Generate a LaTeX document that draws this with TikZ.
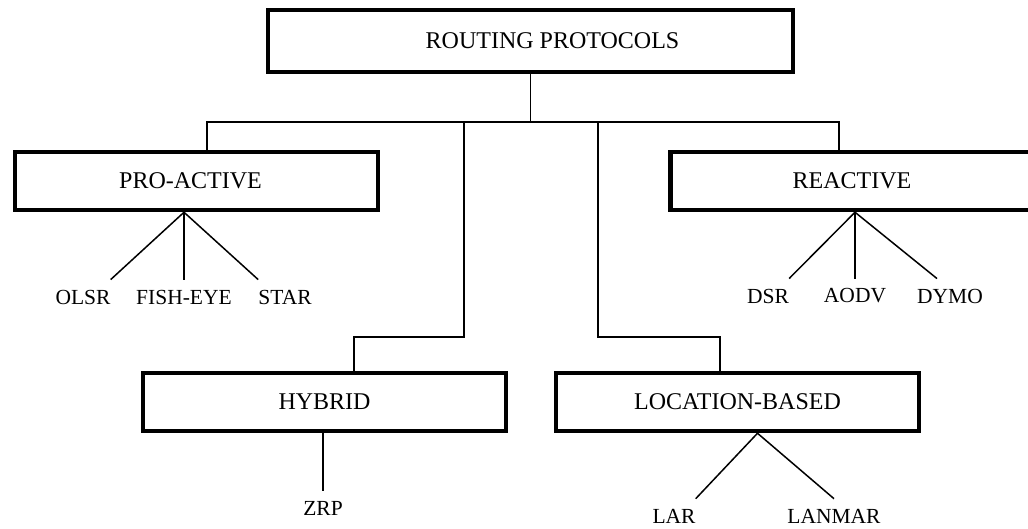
\documentclass[tikz,border=0pt]{standalone}
\usepackage{fontspec}
\setmainfont{Liberation Serif}
\usetikzlibrary{positioning}
\begin{document}
\begin{tikzpicture}[x=1pt, y=-1pt,
    catbox/.style={draw=black, line width=4.5pt, minimum width=363pt, minimum height=58pt, inner sep=0pt, font=\fontsize{24}{28}\selectfont},
    leaf/.style={inner xsep=0pt, inner ysep=10pt, font=\fontsize{21.5}{25}\selectfont},
    link/.style={line width=1.5pt}]
  \useasboundingbox (0,0) rectangle (1028,529);
  \node[catbox, minimum width=525pt, minimum height=62pt] (root) at (530.5,41) {\hspace*{44pt}ROUTING PROTOCOLS};
  \node[catbox] (pro) at (196.5,181) {PRO-ACTIVE\hspace*{12pt}};
  \node[catbox] (rea) at (852,181) {REACTIVE};
  \node[catbox] (hyb) at (324.5,402) {HYBRID};
  \node[catbox] (loc) at (737.5,402) {LOCATION-BASED};
  \node[leaf] (olsr) at (83,297) {OLSR};
  \node[leaf] (fish) at (184,297) {FISH-EYE};
  \node[leaf] (star) at (285,297) {STAR};
  \node[leaf] (dsr) at (768,296) {DSR};
  \node[leaf] (aodv) at (855,296) {AODV};
  \node[leaf] (dymo) at (950,296) {DYMO};
  \node[leaf] (zrp) at (323,508) {ZRP};
  \node[leaf] (lar) at (674,516) {LAR};
  \node[leaf] (lanmar) at (834,516) {LANMAR};
  \coordinate (busL) at (207,122);
  \coordinate (busR) at (839,122);
  \coordinate (hybUp) at (464,122);
  \coordinate (hybKnee) at (354,337);
  \coordinate (locUp) at (598,122);
  \coordinate (locKnee) at (720,337);
  \draw[link] (root.south) -- (root.south |- busL);
  \draw[link] (busL |- pro.north) -- (busL) -- (busR) -- (busR |- rea.north);
  \draw[link] (hybUp) -- (hybUp |- hybKnee) -- (hybKnee) -- (hybKnee |- hyb.north);
  \draw[link] (locUp) -- (locUp |- locKnee) -- (locKnee) -- (locKnee |- loc.north);
  \draw[link] (pro.south -| fish) -- (olsr.north east);
  \draw[link] (pro.south -| fish) -- (fish.north);
  \draw[link] (pro.south -| fish) -- (star.north west);
  \draw[link] (rea.south -| aodv) -- (dsr.north east);
  \draw[link] (rea.south -| aodv) -- (aodv.north);
  \draw[link] (rea.south -| aodv) -- ([xshift=-13pt]dymo.north);
  \draw[link] (hyb.south -| zrp) -- (zrp.north);
  \draw[link] ([xshift=20pt]loc.south) -- (lar.north east);
  \draw[link] ([xshift=20pt]loc.south) -- (lanmar.north);
\end{tikzpicture}
\end{document}
